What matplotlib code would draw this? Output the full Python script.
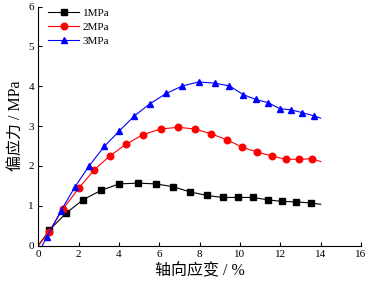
import numpy as np
import matplotlib; matplotlib.use("Agg"); import matplotlib.pyplot as plt

plt.rcParams["font.family"] = ["Liberation Serif", "Noto Sans CJK SC"]

# curves: first point = origin, last point = end of line (no marker)
x1 = [0, 0.55, 1.37, 2.21, 3.12, 4.01, 4.95, 5.83, 6.68, 7.52, 8.37, 9.14, 9.90, 10.64, 11.39, 12.08, 12.80, 13.50, 14.0]
y1 = [0, 0.39, 0.81, 1.15, 1.39, 1.55, 1.57, 1.55, 1.48, 1.35, 1.26, 1.21, 1.21, 1.21, 1.15, 1.11, 1.10, 1.07, 1.04]
x2 = [0, 0.53, 1.24, 2.02, 2.77, 3.54, 4.34, 5.20, 6.07, 6.93, 7.76, 8.55, 9.34, 10.12, 10.86, 11.57, 12.26, 12.92, 13.58, 14.0]
y2 = [0, 0.35, 0.93, 1.45, 1.90, 2.25, 2.54, 2.79, 2.93, 2.97, 2.93, 2.81, 2.66, 2.47, 2.35, 2.25, 2.17, 2.17, 2.18, 2.11]
x3 = [0.2, 0.42, 1.11, 1.80, 2.52, 3.27, 4.02, 4.75, 5.53, 6.34, 7.15, 7.95, 8.74, 9.48, 10.17, 10.78, 11.39, 11.97, 12.52, 13.09, 13.65, 14.0]
y3 = [0, 0.22, 0.86, 1.46, 2.00, 2.49, 2.88, 3.25, 3.56, 3.82, 4.01, 4.11, 4.08, 4.01, 3.79, 3.67, 3.59, 3.44, 3.41, 3.34, 3.26, 3.20]
labels = ["1MPa", "2MPa", "3MPa"]

fig = plt.figure(figsize=(3.68, 2.88), dpi=100)
ax = fig.add_axes([0.104, 0.147, 0.877, 0.83])
kw = dict(lw=0.8, markersize=4.7, markevery=slice(1, -1))
ax.plot(x1, y1, color="black", marker="s", label=labels[0], **kw)
ax.plot(x2, y2, color="red", marker="o", label=labels[1], **kw)
ax.plot(x3, y3, color="blue", marker="^", label=labels[2], **kw)

ax.set_xlim(0, 16); ax.set_ylim(0, 6)
ax.set_xticks(range(0, 17, 2)); ax.set_yticks(range(0, 7))
ax.spines["top"].set_visible(False); ax.spines["right"].set_visible(False)
ax.tick_params(direction="in", length=3, width=0.8, labelsize=8, pad=3)
ax.set_xlabel("轴向应变 / %", fontsize=11.5, labelpad=3)
ax.set_ylabel("偏应力 / MPa", fontsize=11.5, labelpad=3)
leg = ax.legend(loc="upper left", frameon=False, fontsize=8, handlelength=2.8,
                borderaxespad=0.2, labelspacing=0.35, handletextpad=0.3, bbox_to_anchor=(0.01, 1.02))
fig.savefig("out.png", dpi=100)
